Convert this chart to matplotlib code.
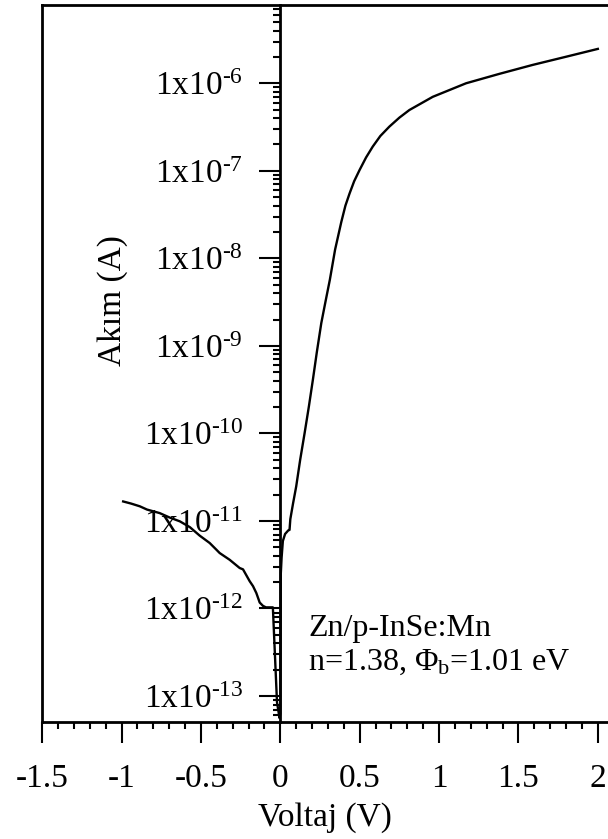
import numpy as np
import matplotlib
matplotlib.use("Agg")
import matplotlib.pyplot as plt
from matplotlib.ticker import LogLocator, MultipleLocator, FuncFormatter, NullFormatter

plt.rcParams['font.family'] = ['Liberation Serif', 'DejaVu Serif']
plt.rcParams['mathtext.fontset'] = 'custom'
plt.rcParams['mathtext.rm'] = 'Liberation Serif'
plt.rcParams['mathtext.it'] = 'Liberation Serif:italic'
plt.rcParams['mathtext.default'] = 'regular'
plt.rcParams['axes.unicode_minus'] = False

# reverse branch (V, A)
v_rev = [-0.99, -0.94, -0.885, -0.84, -0.76, -0.70, -0.633, -0.57, -0.508,
         -0.445, -0.403, -0.382, -0.319, -0.256, -0.235, -0.193, -0.172,
         -0.151, -0.13, -0.109, -0.09, -0.067, -0.047, -0.021, -0.005, 0.0]
i_rev = [1.67e-11, 1.58e-11, 1.47e-11, 1.35e-11, 1.23e-11, 1.10e-11, 9.9e-12,
         8.5e-12, 6.8e-12, 5.6e-12, 4.7e-12, 4.3e-12, 3.6e-12, 2.9e-12,
         2.8e-12, 2.05e-12, 1.8e-12, 1.5e-12, 1.17e-12, 1.07e-12, 1.03e-12,
         1.03e-12, 1.03e-12, 8.5e-14, 5.6e-14, 6.3e-14]

# forward branch
v_fwd = [0.0, 0.003, 0.008, 0.016, 0.030, 0.05, 0.058, 0.063, 0.08, 0.10,
         0.125, 0.153, 0.18, 0.205, 0.23, 0.258, 0.285, 0.312, 0.345, 0.384,
         0.41, 0.436, 0.465, 0.499, 0.54, 0.582, 0.63, 0.687, 0.75, 0.813,
         0.96, 1.17, 1.379, 1.589, 1.80, 2.0]
i_fwd = [6.3e-14, 2.5e-12, 3.8e-12, 5.9e-12, 7.1e-12, 7.8e-12, 7.9e-12,
         1.05e-11, 1.58e-11, 2.48e-11, 5.0e-11, 1.01e-10, 2.04e-10, 4.1e-10,
         8.5e-10, 1.82e-9, 3.24e-9, 5.7e-9, 1.26e-8, 2.6e-8,
         4.0e-8, 5.5e-8, 7.6e-8, 1.02e-7, 1.42e-7, 1.89e-7, 2.5e-7, 3.2e-7,
         4.05e-7, 4.95e-7, 7.0e-7, 1.0e-6, 1.28e-6, 1.62e-6, 2.01e-6, 2.47e-6]

v_all = v_rev + v_fwd
i_all = i_rev + i_fwd

fig = plt.figure(figsize=(6.08, 8.39), dpi=100)
ax = fig.add_axes([0.0694, 0.1398, 0.9306, 0.8542])

ax.plot(v_all, i_all, color='black', lw=1.7)
ax.set_yscale('log')
ax.set_xlim(-1.5, 2.064)
ax.set_ylim(5.09e-14, 7.83e-6)

# y axis sits at V = 0, the frame line at -1.5 is the right spine moved over
ax.spines['left'].set_position(('data', 0))
ax.spines['right'].set_position(('data', -1.5))
for s in ax.spines.values():
    s.set_linewidth(2)
ax.spines['left'].set_zorder(3)

ax.xaxis.set_major_locator(MultipleLocator(0.5))
ax.xaxis.set_minor_locator(MultipleLocator(0.1))
ax.xaxis.set_major_formatter(FuncFormatter(lambda v, p: '%g' % v))
ax.yaxis.set_major_locator(LogLocator(base=10, numticks=30))
ax.yaxis.set_minor_locator(LogLocator(base=10, subs=np.arange(2, 10), numticks=30))
ax.yaxis.set_minor_formatter(NullFormatter())
ax.yaxis.set_major_formatter(FuncFormatter(
    lambda v, p: '1x10$^{\u2010%d}$' % round(-np.log10(v))))

ax.tick_params(axis='both', which='major', direction='out', length=15,
               width=1.5, labelsize=24)
ax.tick_params(axis='both', which='minor', direction='out', length=5, width=1.5)
ax.tick_params(axis='x', which='major', pad=15)
ax.tick_params(axis='y', which='major', pad=12)
ax.tick_params(top=False, right=False, which='both')

ax.set_xlabel('Voltaj (V)', fontsize=24, labelpad=6)
ax.set_ylabel('Akım (A)', fontsize=24)
ax.yaxis.set_label_coords(0.125, 0.588)
ax.yaxis.label.set_va('center')

ax.text(0.47, 0.0721, 'Zn/p-InSe:Mn\nn=1.38, $\\Phi_{b}$=1.01 eV',
        transform=ax.transAxes, fontsize=23, ha='left', va='baseline',
        linespacing=1.2)

fig.savefig('out.png', dpi=100)
